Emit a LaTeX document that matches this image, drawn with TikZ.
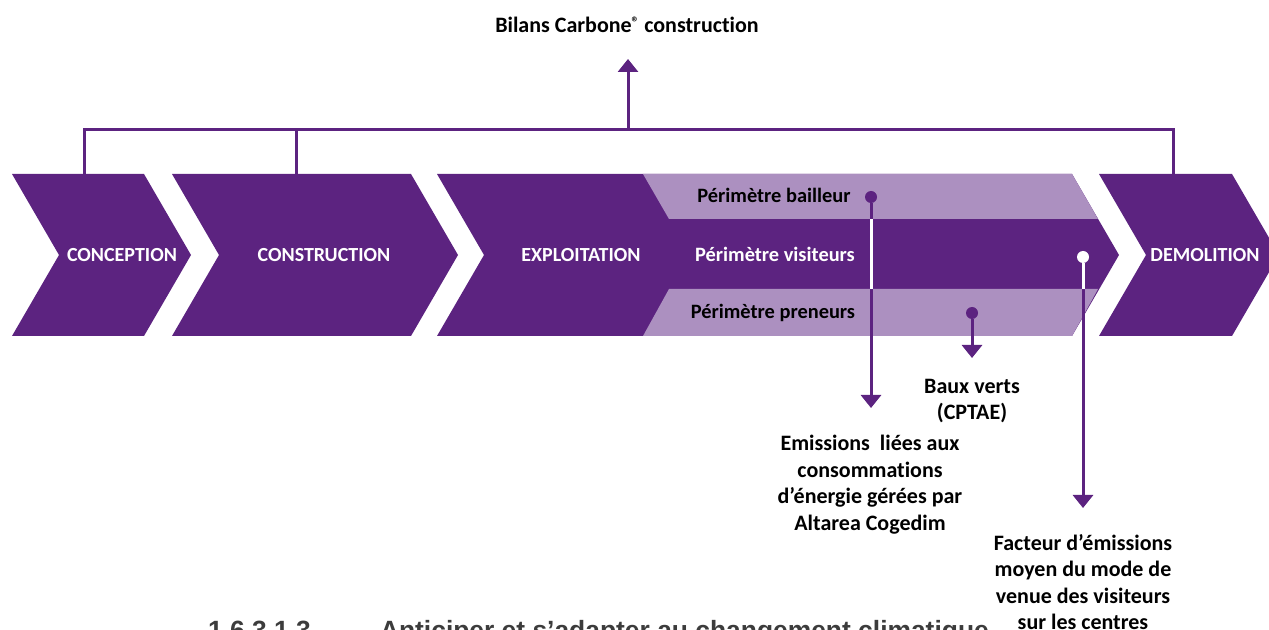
\documentclass[tikz,border=0pt]{standalone}
\usepackage{fontspec}
\setmainfont{Carlito}[Ligatures=NoCommon]
\newfontfamily\titrefont{Liberation Sans}
\usetikzlibrary{arrows.meta}

\definecolor{violetfonce}{RGB}{92,35,128}
\definecolor{violetclair}{RGB}{172,144,192}
\definecolor{grisfonce}{RGB}{60,60,60}

\begin{document}
\begin{tikzpicture}[x=0.5pt, y=-0.5pt]
\tikzset{ >={Triangle[width=10pt,length=6.5pt]}, inner sep=0pt, outer sep=0pt,
  lien/.style={violetfonce, line width=1.5pt},
  etape/.style={white, font=\fontsize{10}{13.3}\selectfont\bfseries},
  bande/.style={font=\fontsize{10.2}{13.3}\selectfont\bfseries},
  txt/.style={black, font=\fontsize{11}{13.3}\selectfont\bfseries, align=center},
}
\useasboundingbox (0,0) rectangle (1269,630);
\clip (0,0) rectangle (1269,630);

% chevrons
\fill [violetfonce] (12,174) -- (144,174) -- (191,255) -- (144,336) -- (12,336) -- (59,255) -- cycle;
\fill [violetfonce] (172,174) -- (411,174) -- (458,255) -- (411,336) -- (172,336) -- (219,255) -- cycle;
\fill [violetfonce] (437,174) -- (1072,174) -- (1119,255) -- (1072,336) -- (437,336) -- (484,255) -- cycle;
\fill [violetfonce] (1099,174) -- (1232,174) -- (1279,255) -- (1232,336) -- (1099,336) -- (1146,255) -- cycle;

% bandes bailleur / preneurs
\fill [violetclair] (643,174) -- (1072,174) -- (1098,219) -- (669,219) -- cycle;
\fill [violetclair] (669,289) -- (1098,289) -- (1072,336) -- (643,336) -- cycle;

\node [etape, anchor=base] (CONC) at (122,262) {CONCEPTION};
\node [etape, anchor=base] (CONS) at (324,262) {CONSTRUCTION};
\node [etape, anchor=base] (EXPL) at (581,262) {EXPLOITATION};
\node [etape, anchor=base] (DEMO) at (1205,262) {DEMOLITION};

\node [bande, black, anchor=base] (BAIL) at (774,203) {Périmètre bailleur};
\node [bande, white, anchor=base] (VISI) at (775,262) {Périmètre visiteurs};
\node [bande, black, anchor=base] (PREN) at (773,319) {Périmètre preneurs};

% accolade du haut
\coordinate (C1) at (84,174);   \coordinate (H1) at (84,130);
\coordinate (C2) at (296,174);  \coordinate (H2) at (296,130);
\coordinate (C3) at (1173,174); \coordinate (H3) at (1173,130);
\coordinate (HA) at (628,130);  \coordinate (FB) at (628,59);

\draw [lien] (C1) -- (H1) -- (H3) -- (C3);
\draw [lien] (C2) -- (H2);
\draw [lien, ->] (HA) -- (FB);

\node [txt, anchor=base] (BC) at (627,33) {Bilans Carbone\raisebox{0.55ex}{\fontsize{7.5}{8}\selectfont ®} construction};

% points et fleches
\node [fill=violetfonce, circle, minimum size=6pt] (PB) at (871,197) {};
\node [fill=white, circle, minimum size=6pt] (PV) at (1083,257) {};
\node [fill=violetfonce, circle, minimum size=6pt] (PP) at (972,313) {};

\coordinate (EB) at (871,408);
\coordinate (EV) at (1083,508);
\coordinate (EP) at (972,358);
\coordinate (B1) at (871,219);
\coordinate (B2) at (871,289);
\coordinate (V2) at (1083,289);

\draw [lien, ->] (PB) -- (EB);
\draw [lien, white] (B1) -- (B2);
\draw [lien, ->] (PV) -- (EV);
\draw [lien, white] (PV) -- (V2);
\draw [lien, ->] (PP) -- (EP);

\node [txt, anchor=north] (BV) at (972,379) {Baux verts\\(CPTAE)};
\node [txt, anchor=north] (EM) at (870,435) {Emissions~ liées aux\\consommations\\d’énergie gérées par\\Altarea Cogedim};
\node [txt, anchor=north] (FA) at (1083,534) {Facteur d’émissions\\moyen du mode de\\venue des visiteurs\\sur les centres};

% titre de section en bas
\node [grisfonce, anchor=base west, font=\titrefont\fontsize{13.2}{15}\selectfont\bfseries] (NUM) at (208,639) {1.6.3.1.3};
\node [grisfonce, anchor=base west, font=\titrefont\fontsize{13.2}{15}\selectfont\bfseries] (TIT) at (380,639) {Anticiper et s’adapter au changement climatique};

\end{tikzpicture}
\end{document}
